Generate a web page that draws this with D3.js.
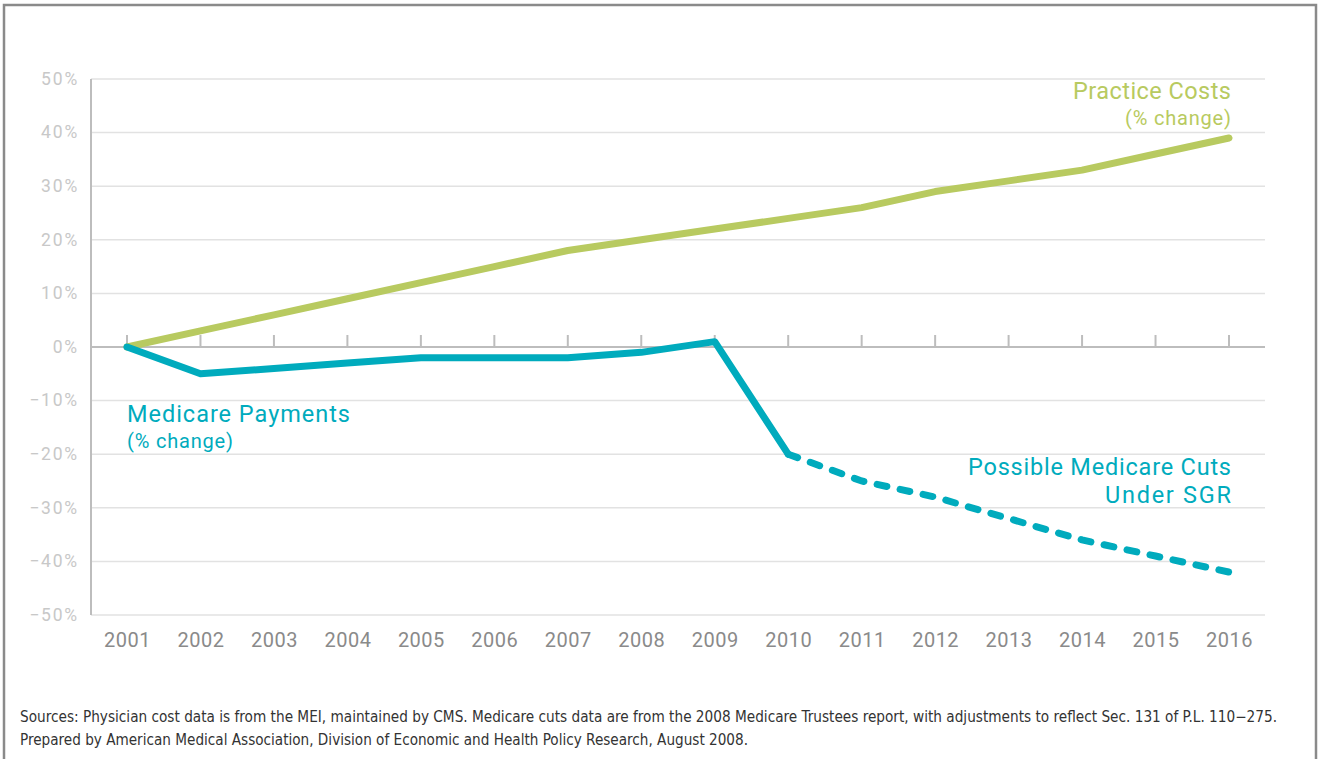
<!DOCTYPE html>
<html><head><meta charset="utf-8">
<script src="https://cdn.jsdelivr.net/npm/d3@7"></script>
<style>body{margin:0;background:#fff}svg{display:block}</style>
</head><body>
<svg id="c" width="1320" height="759"></svg>
<script>
const years = [2001,2002,2003,2004,2005,2006,2007,2008,2009,2010,2011,2012,2013,2014,2015,2016];
const practiceCosts = [0,3,6,9,12,15,18,20,22,24,26,29,31,33,36,39];
const medicareYears = [2001,2002,2003,2004,2005,2006,2007,2008,2009,2010];
const medicarePayments = [0,-5,-4,-3,-2,-2,-2,-1,1,-20];
const cutsYears = [2010,2011,2012,2013,2014,2015,2016];
const possibleCuts = [-20,-25,-28,-32,-36,-39,-42];
const yTicks = [50,40,30,20,10,0,-10,-20,-30,-40,-50];
const yTickLabels = ["50%","40%","30%","20%","10%","0%","\u221210%","\u221220%","\u221230%","\u221240%","\u221250%"];
const sourceLines = [
 "Sources: Physician cost data is from the MEI, maintained by CMS. Medicare cuts data are from the 2008 Medicare Trustees report, with adjustments to reflect Sec. 131 of P.L. 110\u2212275.",
 "Prepared by American Medical Association, Division of Economic and Health Policy Research, August 2008."
];

const svg = d3.select("#c");
const green = "#b8ca60", teal = "#00abbd";
const font = "Roboto, 'Liberation Sans', sans-serif";

svg.append("rect").attr("x",4).attr("y",5).attr("width",1312).attr("height",780)
  .attr("fill","none").attr("stroke","#8a8a8a").attr("stroke-width",2.5);

const x = d3.scaleLinear().domain([2001,2016]).range([127,1229]);
const y = d3.scaleLinear().domain([-50,50]).range([615,79]);
const x0 = 91, x1 = 1265;

// gridlines
svg.append("g").selectAll("line").data(yTicks.filter(d=>d!==0)).join("line")
  .attr("x1",x0).attr("x2",x1).attr("y1",d=>y(d)).attr("y2",d=>y(d))
  .attr("stroke","#e2e2e2").attr("stroke-width",1.5);

// y axis labels
const yAxis = d3.axisLeft(y).tickValues(yTicks).tickSize(0).tickPadding(12)
  .tickFormat((d,i)=>yTickLabels[i]);
const gy = svg.append("g").attr("transform",`translate(${x0},0)`).call(yAxis);
gy.select(".domain").remove();
gy.selectAll("text").attr("fill","#c8c8c8").style("font-family",font)
  .style("font-size","17.5px").style("letter-spacing","1.8px").attr("dy","0.3em");

// y axis line
svg.append("line").attr("x1",x0).attr("x2",x0).attr("y1",y(50)).attr("y2",y(-50))
  .attr("stroke","#bdbdbd").attr("stroke-width",2);

// zero line with ticks
svg.append("line").attr("x1",x0).attr("x2",x1).attr("y1",y(0)).attr("y2",y(0))
  .attr("stroke","#bdbdbd").attr("stroke-width",2);
svg.append("g").selectAll("line").data(years).join("line")
  .attr("x1",d=>x(d)).attr("x2",d=>x(d)).attr("y1",y(0)).attr("y2",y(0)-12)
  .attr("stroke","#bdbdbd").attr("stroke-width",2);

// x labels
const xAxis = d3.axisBottom(x).tickValues(years).tickSize(0).tickPadding(18).tickFormat(d3.format("d"));
const gx = svg.append("g").attr("transform",`translate(0,${y(-50)})`).call(xAxis);
gx.select(".domain").remove();
gx.selectAll("text").attr("fill","#8a8a8a").style("font-family",font).style("font-size","20px")
  .style("letter-spacing","0.5px");

const line = d3.line().x(d=>x(d[0])).y(d=>y(d[1]));
svg.append("path").datum(years.map((yr,i)=>[yr,practiceCosts[i]])).attr("d",line)
  .attr("fill","none").attr("stroke",green).attr("stroke-width",7)
  .attr("stroke-linecap","round").attr("stroke-linejoin","round");
svg.append("path").datum(cutsYears.map((yr,i)=>[yr,possibleCuts[i]])).attr("d",line)
  .attr("fill","none").attr("stroke",teal).attr("stroke-width",7)
  .attr("stroke-linecap","round").attr("stroke-dasharray","10,13.5");
svg.append("path").datum(medicareYears.map((yr,i)=>[yr,medicarePayments[i]])).attr("d",line)
  .attr("fill","none").attr("stroke",teal).attr("stroke-width",7)
  .attr("stroke-linecap","round").attr("stroke-linejoin","round");

function label(txt, xx, yy, size, color, anchor, w){
  svg.append("text").attr("x",xx).attr("y",yy).attr("text-anchor",anchor)
    .attr("textLength",w).attr("lengthAdjust","spacing")
    .attr("fill",color).style("font-family",font).style("font-size",size+"px").text(txt);
}
label("Practice Costs", 1231, 99, 23.5, green, "end", 158);
label("(% change)", 1231, 125, 20, green, "end", 106);
label("Medicare Payments", 127, 422, 23.5, teal, "start", 223);
label("(% change)", 127, 448, 20, teal, "start", 106);
label("Possible Medicare Cuts", 1231, 475, 23.5, teal, "end", 263);
label("Under SGR", 1231, 503, 23.5, teal, "end", 126);

const srcW = [1257, 728];
sourceLines.forEach((t,i)=>{
  svg.append("text").attr("x",20).attr("y",722+i*23)
    .attr("textLength",srcW[i]).attr("lengthAdjust","spacingAndGlyphs")
    .attr("fill","#333").style("font-family","'Liberation Sans Narrow','DejaVu Sans Condensed',sans-serif")
    .style("font-size","15px").text(t);
});
</script>
</body></html>
